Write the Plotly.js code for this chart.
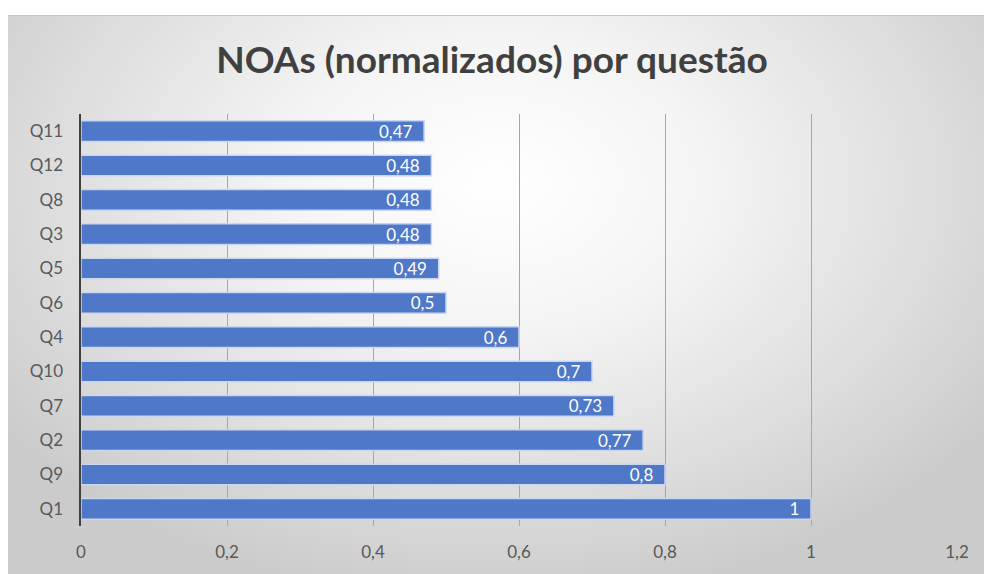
<!DOCTYPE html>
<html>
<head>
<meta charset="utf-8">
<script src="https://cdn.plot.ly/plotly-3.0.1.min.js"></script>
<style>
  html, body { margin:0; padding:0; background:#ffffff; }
  #bg { position:absolute; left:8px; top:15px; width:976px; height:559px;
        border-top:1px solid #c8c8c8;
        background: radial-gradient(ellipse 62% 75% at 50% 30%, #ffffff 0%, #f4f4f4 35%, #dcdcdc 75%, #cbcbcb 100%); }
  #chart { position:absolute; left:0; top:0; width:984px; height:574px; }
</style>
</head>
<body>
<div id="bg"></div>
<div id="chart"></div>
<script>
const categories = ["Q1","Q9","Q2","Q7","Q10","Q4","Q6","Q5","Q3","Q8","Q12","Q11"];
const values = [1, 0.8, 0.77, 0.73, 0.7, 0.6, 0.5, 0.49, 0.48, 0.48, 0.48, 0.47];
const labels = values.map(v => String(v).replace('.', ',') + '\u00a0\u00a0');
const tickVals = [0, 0.2, 0.4, 0.6, 0.8, 1, 1.2];
const tickText = ["0", "0,2", "0,4", "0,6", "0,8", "1", "1,2"];

const trace = {
  type: 'bar',
  orientation: 'h',
  y: categories,
  x: values,
  text: labels,
  textposition: 'inside',
  insidetextanchor: 'end',
  textangle: 0,
  constraintext: 'none',
  textfont: { family: 'Lato, "Open Sans", sans-serif', size: 17, color: '#ffffff' },
  marker: { color: '#4f78c8', line: { color: '#c9d6ef', width: 1.5 } },
  hoverinfo: 'none'
};

const layout = {
  width: 984, height: 574,
  paper_bgcolor: 'rgba(0,0,0,0)',
  plot_bgcolor: 'rgba(0,0,0,0)',
  margin: { l: 81, r: 27, t: 114, b: 48 },
  bargap: 0.4,
  showlegend: false,
  title: {
    text: '<b>NOAs (normalizados) por questão</b>',
    font: { family: 'Lato, "Open Sans", sans-serif', size: 37, color: '#404040' },
    x: 0.5, xanchor: 'center', y: 0.895, yanchor: 'middle'
  },
  xaxis: {
    range: [0, 1.2],
    tickvals: tickVals,
    ticktext: tickText,
    showgrid: true,
    gridcolor: '#a6a6a6',
    gridwidth: 1,
    zeroline: false,
    showline: false,
    ticks: '',
    ticklabelstandoff: 14,
    tickfont: { family: 'Lato, "Open Sans", sans-serif', size: 17, color: '#595959' },
    fixedrange: true
  },
  yaxis: {
    type: 'category',
    showline: true,
    linecolor: '#404040',
    linewidth: 2.5,
    showgrid: false,
    zeroline: false,
    ticks: '',
    ticklabelstandoff: 12,
    tickfont: { family: 'Lato, "Open Sans", sans-serif', size: 17, color: '#595959' },
    fixedrange: true
  }
};

Plotly.newPlot('chart', [trace], layout, { displayModeBar: false, staticPlot: true });
</script>
</body>
</html>
